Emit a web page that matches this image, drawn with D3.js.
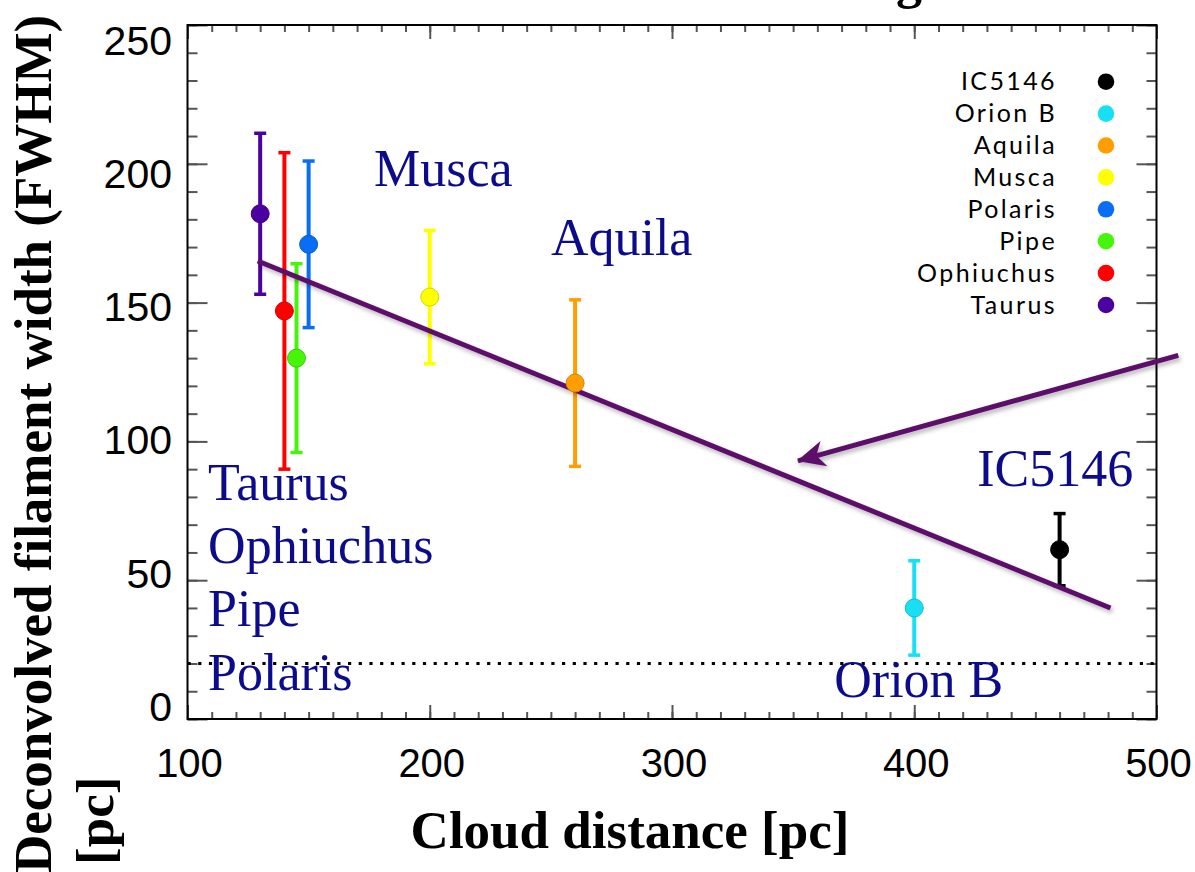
<!DOCTYPE html>
<html>
<head>
<meta charset="utf-8">
<script src="https://cdn.jsdelivr.net/npm/d3@7"></script>
<style>
  html, body { margin: 0; padding: 0; background: #fff; }
  svg { display: block; }
</style>
</head>
<body>
<svg id="chart" width="1195" height="872"></svg>
<script>
// Filament widths measured in nearby clouds, versus cloud distance
const clouds      = ["IC5146", "Orion B", "Aquila", "Musca", "Polaris", "Pipe", "Ophiuchus", "Taurus"];
const distances   = [460, 400, 260, 200, 150, 145, 140, 130];      // pc
const widths      = [61, 40, 121, 152, 171, 130, 147, 182];        // deconvolved FWHM
const widthErrors = [13, 17, 30, 24, 30, 34, 57, 29];
const colors      = ["#000000", "#18e0f4", "#ff9e00", "#ffff00", "#0a6ef5", "#46f50a", "#ff0000", "#4b00a0"];

// Linear trend
const fitDistances = [129, 481];
const fitWidths    = [165, 40];

// Resolution floor (dotted)
const resolutionLimit = 20;

// Arrow pointing at the trend
const arrowFrom = [509, 131];
const arrowTo   = [352, 93];

// Cloud names written on the plot, anchored in data units
const cloudLabels = [
  { text: "Musca",  d: 177, w: 192 },
  { text: "Aquila", d: 250, w: 167 },
  { text: "IC5146", d: 426, w: 84 },
  { text: "Orion B", d: 367, w: 8 }
];
const nearbyCloudNames = ["Taurus", "Ophiuchus", "Pipe", "Polaris"];
const nearbyLabelAnchor = { d: 108.5, w: 79 };

const xTicksMajor = [100, 200, 300, 400, 500];
const yTicksMajor = [0, 50, 100, 150, 200, 250];

const svg = d3.select("#chart");
const plotLeft = 187.5, plotRight = 1156.5, plotTop = 25, plotBottom = 719;

const x = d3.scaleLinear().domain([100, 500]).range([plotLeft, plotRight]);
const y = d3.scaleLinear().domain([0, 250]).range([plotBottom, plotTop]);
// tick labels on the value axis sit slightly inside the end ticks
const yLabel = d3.scaleLinear().domain([0, 250]).range([706, 40]);

const defs = svg.append("defs");
const shadow = defs.append("filter").attr("id", "shadow")
  .attr("x", "-10%").attr("y", "-10%").attr("width", "130%").attr("height", "140%");
shadow.append("feDropShadow").attr("dx", 2).attr("dy", 3).attr("stdDeviation", 2)
  .attr("flood-color", "#000").attr("flood-opacity", 0.28);

const lineColor = "#5d0c6b";
defs.append("marker").attr("id", "arrowhead")
  .attr("markerUnits", "userSpaceOnUse")
  .attr("viewBox", "-30 -15 32 30")
  .attr("markerWidth", 32).attr("markerHeight", 30)
  .attr("refX", 0).attr("refY", 0)
  .attr("orient", "auto")
  .append("path")
  .attr("d", "M1,0 L-27,-13 L-19,0 L-27,13 Z")
  .attr("fill", lineColor);

// ---- ticks (inward on all four sides) ----
const tickColor = "#555";
const xMinor = d3.range(100, 501, 10);
const yMinor = d3.range(0, 251, 10);

function styleTicks(g) {
  g.select(".domain").remove();
  g.selectAll(".tick line").attr("stroke", tickColor).attr("stroke-width", 2);
  g.selectAll(".tick text").remove();
}

svg.append("g").attr("transform", `translate(0,${plotBottom})`)
  .call(d3.axisBottom(x).tickValues(xMinor).tickSize(-7).tickFormat("")).call(styleTicks);
svg.append("g").attr("transform", `translate(0,${plotBottom})`)
  .call(d3.axisBottom(x).tickValues(xTicksMajor).tickSize(-14).tickFormat("")).call(styleTicks);
svg.append("g").attr("transform", `translate(0,${plotTop})`)
  .call(d3.axisTop(x).tickValues(xMinor).tickSize(-7).tickFormat("")).call(styleTicks);
svg.append("g").attr("transform", `translate(0,${plotTop})`)
  .call(d3.axisTop(x).tickValues(xTicksMajor).tickSize(-14).tickFormat("")).call(styleTicks);

svg.append("g").attr("transform", `translate(${plotLeft},0)`)
  .call(d3.axisLeft(y).tickValues(yMinor).tickSize(-10).tickFormat("")).call(styleTicks);
svg.append("g").attr("transform", `translate(${plotLeft},0)`)
  .call(d3.axisLeft(y).tickValues(yTicksMajor).tickSize(-20).tickFormat("")).call(styleTicks);
svg.append("g").attr("transform", `translate(${plotRight},0)`)
  .call(d3.axisRight(y).tickValues(yMinor).tickSize(-10).tickFormat("")).call(styleTicks);
svg.append("g").attr("transform", `translate(${plotRight},0)`)
  .call(d3.axisRight(y).tickValues(yTicksMajor).tickSize(-20).tickFormat("")).call(styleTicks);

// frame
svg.append("rect")
  .attr("x", plotLeft).attr("y", plotTop)
  .attr("width", plotRight - plotLeft).attr("height", plotBottom - plotTop)
  .attr("fill", "none").attr("stroke", "#000").attr("stroke-width", 2);

// tick labels
const tickFont = "'Liberation Sans', Arial, sans-serif";
svg.append("g").selectAll("text").data(xTicksMajor).join("text")
  .attr("x", d => x(d) + 2).attr("y", 777)
  .attr("text-anchor", "middle")
  .attr("font-family", tickFont).attr("font-size", 40)
  .text(d => d);
svg.append("g").selectAll("text").data(yTicksMajor).join("text")
  .attr("x", 172).attr("y", d => yLabel(d))
  .attr("dy", "0.36em")
  .attr("text-anchor", "end")
  .attr("font-family", tickFont).attr("font-size", 41)
  .text(d => d);

// axis titles
const serif = "'Liberation Serif', 'Times New Roman', serif";
svg.append("text")
  .attr("x", 630).attr("y", 848)
  .attr("text-anchor", "middle")
  .attr("font-family", serif).attr("font-weight", "bold").attr("font-size", 53)
  .text("Cloud distance [pc]");

const yTitle = svg.append("text")
  .attr("transform", "translate(51,873) rotate(-90)")
  .attr("font-family", serif).attr("font-weight", "bold").attr("font-size", 53);
yTitle.append("tspan").attr("x", 0).attr("y", 0).text("Deconvolved filament width (FWHM)");
yTitle.append("tspan").attr("x", 8).attr("y", 62).text("[pc]");

// slide heading running off the top edge
svg.append("text")
  .attr("x", 922).attr("y", -2)
  .attr("text-anchor", "end")
  .attr("font-family", serif).attr("font-weight", "bold").attr("font-size", 52)
  .text("g");

// resolution floor
svg.append("line")
  .attr("x1", plotLeft).attr("x2", plotRight)
  .attr("y1", y(resolutionLimit)).attr("y2", y(resolutionLimit))
  .attr("stroke", "#000").attr("stroke-width", 3.2)
  .attr("stroke-dasharray", "3.2,7.5");

// error bars and points
const pts = clouds.map((c, i) => ({
  name: c, d: distances[i], w: widths[i], e: widthErrors[i], color: colors[i]
}));

const bars = svg.append("g");
pts.forEach(p => {
  const g = bars.append("g").attr("stroke", p.color);
  g.append("line")
    .attr("x1", x(p.d)).attr("x2", x(p.d))
    .attr("y1", y(p.w + p.e)).attr("y2", y(p.w - p.e))
    .attr("stroke-width", 4);
  [p.w + p.e, p.w - p.e].forEach(v => {
    g.append("line")
      .attr("x1", x(p.d) - 6).attr("x2", x(p.d) + 6)
      .attr("y1", y(v)).attr("y2", y(v))
      .attr("stroke-width", 3.5);
  });
});

// trend line
svg.append("line")
  .attr("x1", x(fitDistances[0])).attr("y1", y(fitWidths[0]))
  .attr("x2", x(fitDistances[1])).attr("y2", y(fitWidths[1]))
  .attr("stroke", lineColor).attr("stroke-width", 5)
  .attr("filter", "url(#shadow)");

svg.append("g").selectAll("circle").data(pts).join("circle")
  .attr("cx", p => x(p.d)).attr("cy", p => y(p.w))
  .attr("r", 9)
  .attr("fill", p => p.color)
  .attr("stroke", p => d3.color(p.color).darker(0.5))
  .attr("stroke-width", 1);

// arrow
svg.append("line")
  .attr("x1", x(arrowFrom[0])).attr("y1", y(arrowFrom[1]))
  .attr("x2", x(arrowTo[0])).attr("y2", y(arrowTo[1]))
  .attr("stroke", lineColor).attr("stroke-width", 5)
  .attr("marker-end", "url(#arrowhead)")
  .attr("filter", "url(#shadow)");

// cloud names
const labelColor = "#0b0b8c";
svg.append("g").selectAll("text").data(cloudLabels).join("text")
  .attr("x", l => x(l.d)).attr("y", l => y(l.w))
  .attr("font-family", serif).attr("font-size", 52)
  .attr("fill", labelColor)
  .text(l => l.text);

const nearby = svg.append("text")
  .attr("font-family", serif).attr("font-size", 52)
  .attr("fill", labelColor);
nearbyCloudNames.forEach((n, i) => {
  nearby.append("tspan")
    .attr("x", x(nearbyLabelAnchor.d))
    .attr("y", y(nearbyLabelAnchor.w) + i * 63.4)
    .text(n);
});

// legend
const legend = svg.append("g");
const legendRows = legend.selectAll("g").data(pts).join("g")
  .attr("transform", (p, i) => `translate(0,${81.7 + i * 31.9})`);
legendRows.append("text")
  .attr("x", 1057).attr("y", 8.5)
  .attr("text-anchor", "end")
  .attr("font-family", "Lato, 'DejaVu Sans', sans-serif")
  .attr("font-size", 25)
  .attr("letter-spacing", 2.4)
  .text(p => p.name);
legendRows.append("circle")
  .attr("cx", 1106).attr("cy", 0).attr("r", 8.3)
  .attr("fill", p => p.color);
</script>
</body>
</html>
